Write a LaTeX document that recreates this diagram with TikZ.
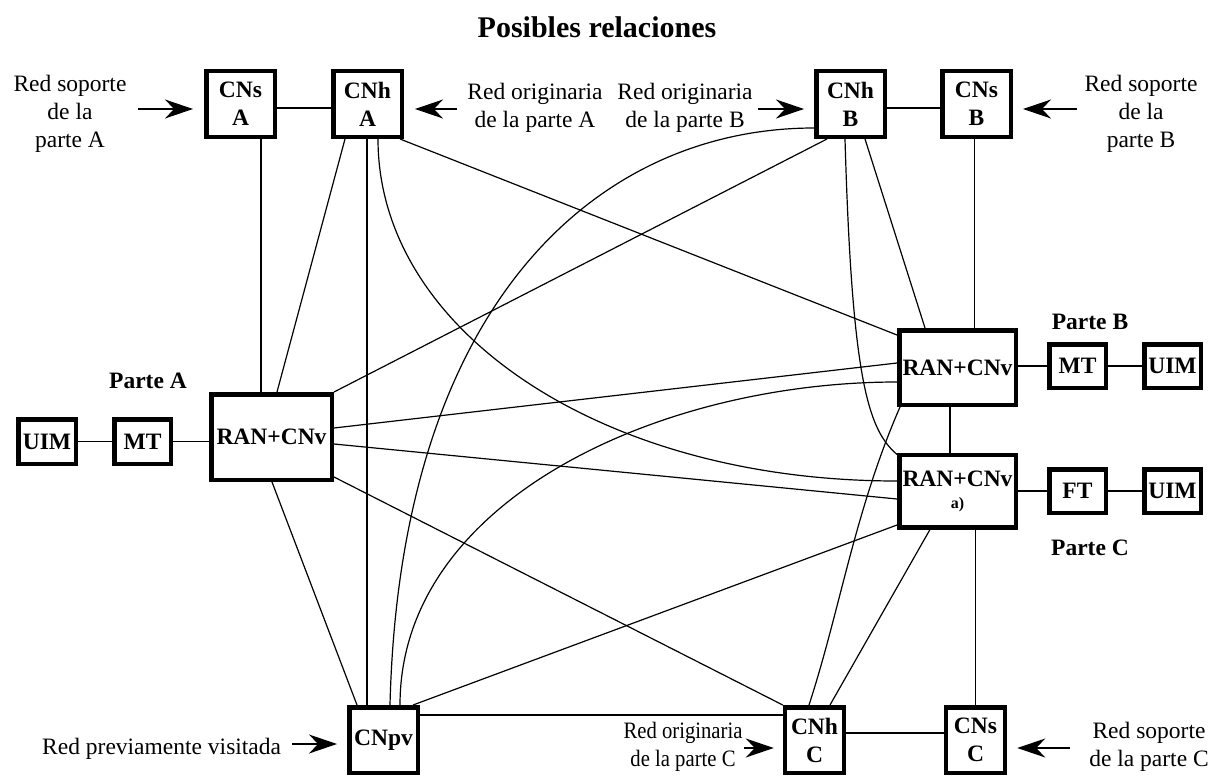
\documentclass[tikz,border=0pt]{standalone}
\usepackage{fontspec}
\setmainfont{Liberation Serif}
\newfontfamily\narrowserif[FakeStretch=0.88]{Liberation Serif}
\usetikzlibrary{arrows.meta}
\newcommand\lblsize{\fontsize{23.5}{28}\selectfont}
\begin{document}
\begin{tikzpicture}[x=1pt,y=-1pt,
  box/.style={draw, line width=4.5pt, inner sep=0pt, align=center,
              font=\lblsize\bfseries},
  lbl/.style={inner sep=0pt, align=center, font=\lblsize},
  part/.style={inner sep=0pt, font=\lblsize\bfseries},
  ln/.style={line width=1.2pt},
  arr/.style={line width=1.3pt, -{Stealth[length=28pt,width=19pt,inset=9pt]}}]
\useasboundingbox (0,0) rectangle (1218,776);

% title
\node[font=\fontsize{30}{36}\selectfont\bfseries, anchor=base] (title) at (597,38) {Posibles relaciones};

% core network nodes, top row
\node[box, minimum width=68.5pt, minimum height=65.5pt] (CNsA) at (240.5,104) {CNs\\A};
\node[box, minimum width=68.5pt, minimum height=65.5pt] (CNhA) at (367.5,104) {CNh\\A};
\node[box, minimum width=68.5pt, minimum height=65.5pt] (CNhB) at (850.5,104) {CNh\\B};
\node[box, minimum width=68.5pt, minimum height=65.5pt] (CNsB) at (976.5,104) {CNs\\B};

% party A
\node[box, minimum width=120.5pt, minimum height=85.5pt] (RANA) at (271.5,437) {RAN+CNv};
\node[box, minimum width=57.5pt, minimum height=44.5pt] (UIMA) at (47,441.5) {UIM};
\node[box, minimum width=56.5pt, minimum height=44.5pt] (MTA) at (142.5,441.5) {MT};
\node[part] (pA) at (148,381) {Parte A};

% party B
\node[box, minimum width=116.5pt, minimum height=74.5pt] (RANB) at (957.5,367.5) {RAN+CNv};
\node[box, minimum width=56.5pt, minimum height=43.5pt] (MTB) at (1077.5,366) {MT};
\node[box, minimum width=56.5pt, minimum height=43.5pt] (UIMB) at (1172.5,366) {UIM};
\node[part] (pB) at (1090,322) {Parte B};

% party C
\node[box, minimum width=116.5pt, minimum height=72.5pt] (RANC) at (957.5,491) {RAN+CNv\\[-6pt]{\fontsize{16}{18}\selectfont a)}};
\node[box, minimum width=56.5pt, minimum height=43.5pt] (FTC) at (1077.5,491) {FT};
\node[box, minimum width=56.5pt, minimum height=43.5pt] (UIMC) at (1172.5,491) {UIM};
\node[part] (pC) at (1090,548) {Parte C};

% bottom row
\node[box, minimum width=68.5pt, minimum height=65.5pt] (CNpv) at (383.5,740) {CNpv};
\node[box, minimum width=59pt, minimum height=65.5pt] (CNhC) at (814.5,740) {CNh\\C};
\node[box, minimum width=59pt, minimum height=65.5pt] (CNsC) at (975.5,740) {CNs\\C};

% network labels
\node[lbl] (lsA) at (70,114) {Red soporte\\de la\\parte A};
\node[lbl] (loA) at (535,108) {Red originaria\\de la parte A};
\node[lbl] (loB) at (685,108) {Red originaria\\de la parte B};
\node[lbl] (lsB) at (1141,114) {Red soporte\\de la\\parte B};
\node[lbl, anchor=west] (lpv) at (42,749) {Red previamente visitada};
\node[lbl, font=\lblsize\narrowserif] (loC) at (683,747) {Red originaria\\de la parte C};
\node[lbl] (lsC) at (1149,747) {Red soporte\\de la parte C};

% arrows from the labels
\coordinate (tsA) at (138,109);
\coordinate (toA) at (457,109);
\coordinate (toB) at (758,109);
\coordinate (tsB) at (1077,109);
\coordinate (tpv) at (292,744);
\coordinate (toC) at (744,748);
\coordinate (tsC) at (1070,748);
\draw[arr] (tsA) -- ([xshift=-11pt,yshift=-5pt]CNsA.west);
\draw[arr] (toA) -- ([xshift=11pt,yshift=-5pt]CNhA.east);
\draw[arr] (toB) -- ([xshift=-10pt,yshift=-5pt]CNhB.west);
\draw[arr] (tsB) -- ([xshift=10pt,yshift=-5pt]CNsB.east);
\draw[arr] (tpv) -- ([xshift=-10pt,yshift=-4pt]CNpv.west);
\draw[arr] (toC) -- ([xshift=-9pt,yshift=-8pt]CNhC.west);
\draw[arr] (tsC) -- ([xshift=10pt,yshift=-8pt]CNsC.east);

% terminal chains
\draw[ln] (UIMA) -- (MTA);
\draw[ln] (MTA.east) -- (MTA.east -| RANA.west);
\draw[ln] (RANB.east |- MTB.west) -- (MTB.west);
\draw[ln] (MTB) -- (UIMB);
\draw[ln] (RANC.east |- FTC.west) -- (FTC.west);
\draw[ln] (FTC) -- (UIMC);

% serving / home links
\draw[ln] ([yshift=-4pt]CNsA.east) -- ([yshift=-4pt]CNhA.west);
\draw[ln] ([yshift=-4pt]CNhB.east) -- ([yshift=-4pt]CNsB.west);
\draw[ln] ([yshift=7pt]CNhC.east) -- ([yshift=7pt]CNsC.west);
\draw[ln] ([xshift=20.5pt]CNsA.south) -- ([xshift=-10.5pt]RANA.north);
\draw[ln] ([xshift=-2pt]CNsB.south) -- ([xshift=17pt]RANB.north);
\draw[ln] ([xshift=18pt]RANC.south) -- (CNsC.north);

% home network A
\draw[ln] ([xshift=-22.5pt]CNhA.south) -- ([xshift=5.5pt]RANA.north);
\draw[ln] ([xshift=-0.5pt]CNhA.south) -- ([xshift=-16.5pt]CNpv.north);
\draw[ln] ([xshift=10.5pt]CNhA.south) .. controls +(0,191) and +(-297,0) .. ([yshift=10pt]RANC.west);
\draw[ln] ([xshift=-4pt]CNhA.south east) -- ([yshift=-7pt]RANB.north west);

% home network B
\draw[ln] ([xshift=-23.5pt]CNhB.south) -- (RANA.north east);
\draw[ln] ([xshift=6.5pt]CNpv.north) .. controls +(10,-405) and +(-214,0) .. ([yshift=-24pt]CNhB.west);
\draw[ln] ([xshift=14.5pt]CNhB.south) -- ([xshift=-32.5pt]RANB.north);
\draw[ln] ([xshift=-5.5pt]CNhB.south) .. controls +(7,241) and +(-29,-25) .. ([yshift=-2pt]RANC.north west);

% home network C
\draw[ln] ([yshift=5pt]RANA.south east) -- (CNhC.north west);
\draw[ln] ([xshift=-5.5pt]CNhC.north) .. controls +(31,-95) and +(-45,103) .. ([xshift=3pt]RANB.south west);
\draw[ln] ([xshift=15.5pt]CNhC.north) -- ([xshift=-27.5pt]RANC.south);
\draw[ln] ([yshift=25pt]CNpv.east) -- ([yshift=25pt]CNhC.west);

% access network links
\draw[ln] ([yshift=9pt]RANA.east) -- ([yshift=4.5pt]RANB.west);
\draw[ln] ([yshift=-7pt]RANA.east) -- ([yshift=-8pt]RANC.west);
\draw[ln] ([xshift=-7.5pt]RANB.south) -- ([xshift=-7.5pt]RANC.north);

% previously visited network
\draw[ln] ([xshift=0.5pt]RANA.south) -- ([xshift=-26.5pt]CNpv.north);
\draw[ln] ([xshift=16.5pt]CNpv.north) .. controls +(0,-205) and +(-237,0) .. ([yshift=-14.5pt]RANB.west);
\draw[ln] ([xshift=29.5pt]CNpv.north) -- ([yshift=-34pt]RANC.west);
\end{tikzpicture}
\end{document}
